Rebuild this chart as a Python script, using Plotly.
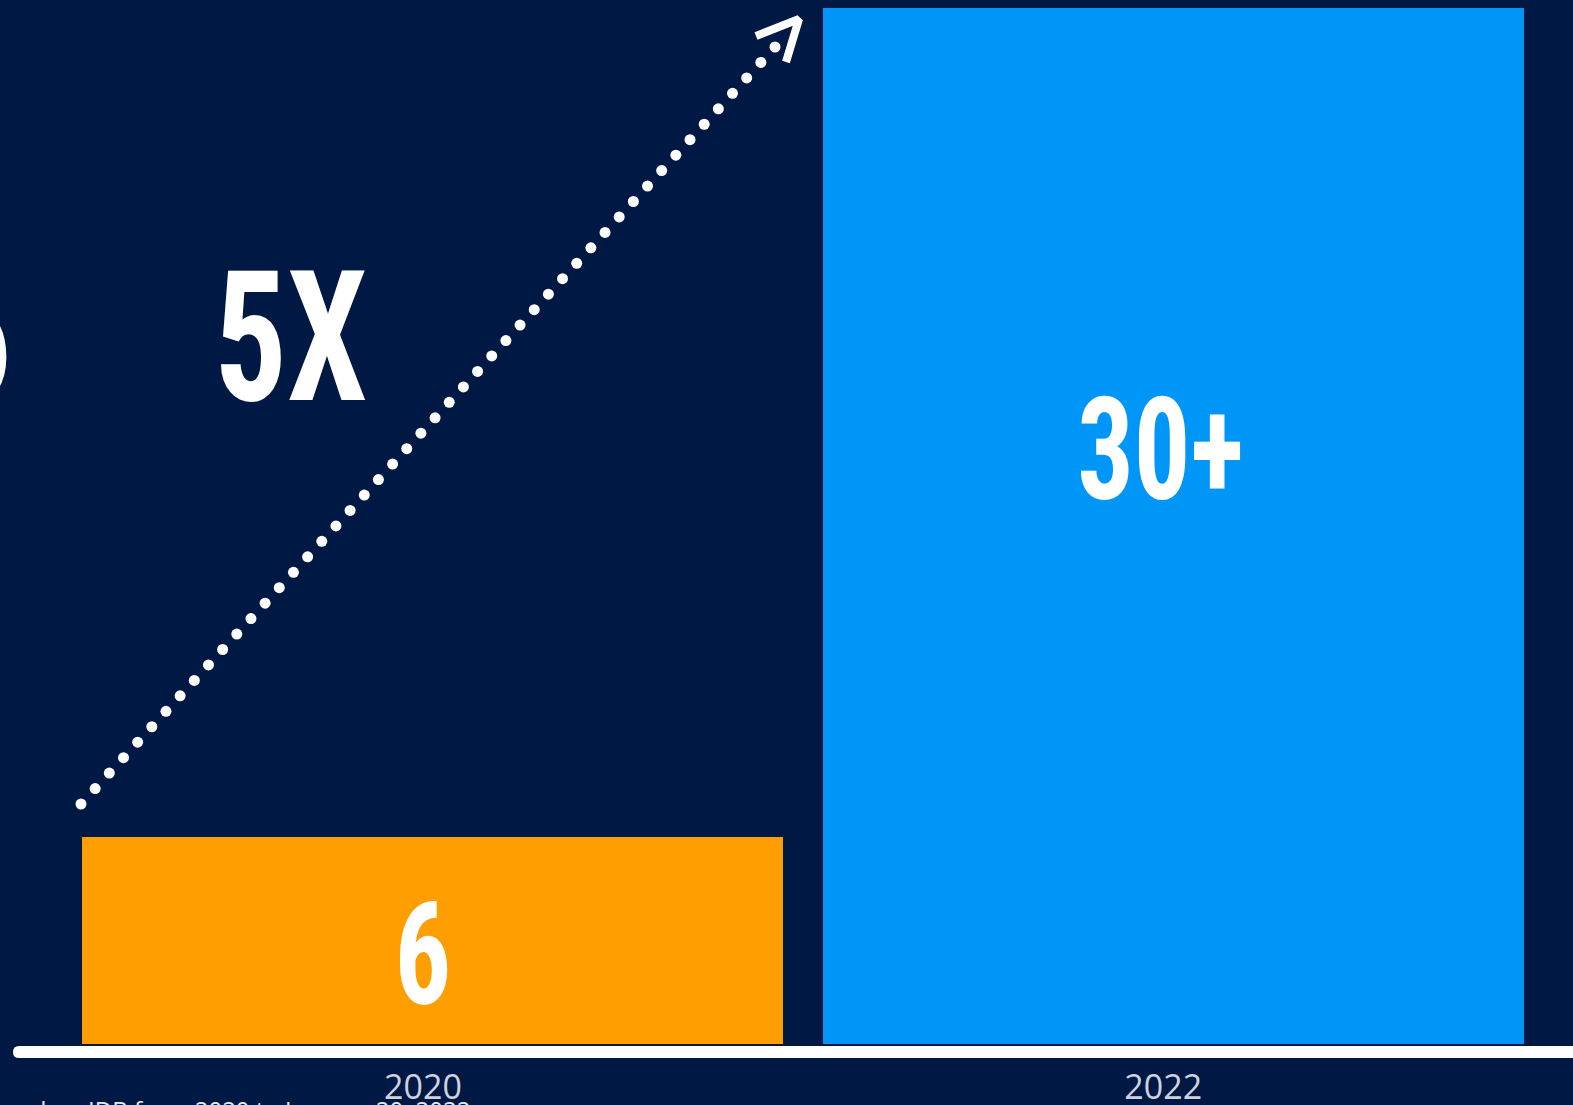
import numpy as np
import plotly.graph_objects as go

# --- data ---------------------------------------------------------------
years = ["2020", "2022"]
counts = [6, 30]
count_labels = ["6", "30+"]
bar_colors = ["#FF9E00", "#0096F8"]
growth_label = "5X"
source_note = "Based on IDB from 2020 to January 20, 2022"

# --- page geometry ------------------------------------------------------
W, H = 1573, 1105
BOTTOM = 61            # space under the plot area for the baseline + years
PLOT_H = H - BOTTOM
BG = "#001844"
CONDENSED = "Roboto Condensed, Liberation Sans Narrow, DejaVu Sans Condensed, Arial Narrow, sans-serif"
SQUEEZE = 0.79         # horizontal compression applied to the big display numerals

x_pos = np.arange(len(years))
y_top = max(counts) * PLOT_H / (PLOT_H - 8)
x_range = [-0.5848, 1.540]


def px_to_paper(px, py):
    """Pixel position on the page -> paper coordinates (no side margins)."""
    return px / W, (PLOT_H - py) / PLOT_H


def px_to_data(px, py):
    xd = x_range[0] + px / W * (x_range[1] - x_range[0])
    yd = (PLOT_H - py) / PLOT_H * y_top
    return xd, yd


fig = go.Figure()

fig.add_trace(go.Bar(
    x=x_pos, y=counts, width=0.947,
    marker=dict(color=bar_colors, line=dict(width=0)),
    hoverinfo="skip", showlegend=False,
))

# dotted growth arrow rising from the 2020 bar towards the 2022 bar
sx, sy = px_to_data(81, 804)
ex, ey = px_to_data(775, 47)
n_dots = 50
fig.add_trace(go.Scatter(
    x=np.linspace(sx, ex, n_dots), y=np.linspace(sy, ey, n_dots),
    mode="markers", marker=dict(size=11, color="white", line=dict(width=0)),
    hoverinfo="skip", showlegend=False, cliponaxis=False,
))
head = [px_to_data(*p) for p in [(756, 36), (799, 19), (786, 62)]]
fig.add_trace(go.Scatter(
    x=[p[0] for p in head], y=[p[1] for p in head],
    mode="lines", line=dict(width=8, color="white"),
    hoverinfo="skip", showlegend=False, cliponaxis=False,
))

# value labels inside the bars
label_pos = [(423, 955), (1160, 450)]
for txt, (px, py) in zip(count_labels, label_pos):
    ax, ay = px_to_data(px, py)
    fig.add_annotation(
        x=ax, y=ay, xref="x", yref="y", text=f"<b>{txt}</b>",
        showarrow=False, xanchor="center", yanchor="middle",
        font=dict(family=CONDENSED, size=142, color="white"),
    )

# growth multiplier
gx, gy = px_to_paper(291, 338)
fig.add_annotation(
    x=gx, y=gy, xref="paper", yref="paper", text=f"<b>{growth_label}</b>",
    showarrow=False, xanchor="center", yanchor="middle",
    font=dict(family=CONDENSED, size=182, color="white"),
)
# headline figure running off the left edge
lx, ly = px_to_paper(-25, 338)
fig.add_annotation(
    x=lx, y=ly, xref="paper", yref="paper", text="<b>6</b>",
    showarrow=False, xanchor="center", yanchor="middle",
    font=dict(family=CONDENSED, size=182, color="white"),
)

# source note, mostly below the visible page
nx, ny = px_to_paper(472, 1091)
fig.add_annotation(
    x=nx, y=ny, xref="paper", yref="paper", text=source_note,
    showarrow=False, xanchor="right", yanchor="top",
    font=dict(family="Open Sans, sans-serif", size=24, color="#E6E9EF"),
)

# white baseline with a rounded left end
x0, yc = 13, 1052
half = 6
p_a = px_to_paper(x0 + half, yc - half)
p_b = px_to_paper(W + 10, yc - half)
p_c = px_to_paper(W + 10, yc + half)
p_d = px_to_paper(x0 + half, yc + half)
p_l = px_to_paper(x0, yc)
path = (f"M{p_a[0]},{p_a[1]} L{p_b[0]},{p_b[1]} L{p_c[0]},{p_c[1]} L{p_d[0]},{p_d[1]} "
        f"Q{p_l[0]},{p_d[1]} {p_l[0]},{p_l[1]} Q{p_l[0]},{p_a[1]} {p_a[0]},{p_a[1]} Z")
fig.add_shape(type="path", path=path, xref="paper", yref="paper",
              fillcolor="white", line=dict(width=0), layer="above")

fig.update_layout(
    width=W, height=H,
    margin=dict(l=0, r=0, t=0, b=BOTTOM, pad=0, autoexpand=False),
    paper_bgcolor=BG, plot_bgcolor=BG,
    bargap=0,
    xaxis=dict(
        range=x_range, tickmode="array", tickvals=x_pos, ticktext=years,
        showgrid=False, zeroline=False, showline=False, ticks="",
        tickfont=dict(family="Open Sans, sans-serif", size=34, color="#CDD3DE"),
        ticklabelshift=-10, ticklabelstandoff=20, automargin=False,
        fixedrange=True,
    ),
    yaxis=dict(
        range=[0, y_top], visible=False, showgrid=False, zeroline=False,
        fixedrange=True, automargin=False,
    ),
)

# narrow the large display numerals around their own centres
squeeze_js = """
var gd = document.getElementById('{plot_id}');
function squeezeBig() {
  gd.querySelectorAll('text.annotation-text').forEach(function (t) {
    var fs = parseFloat(t.style.fontSize);
    if (fs >= 100) {
      t.removeAttribute('transform');
      var b = t.getBBox();
      var cx = b.x + b.width / 2;
      t.setAttribute('transform',
        'translate(' + cx + ',0) scale(%s,1) translate(' + (-cx) + ',0)');
    }
  });
}
squeezeBig();
gd.on('plotly_afterplot', squeezeBig);
""" % SQUEEZE

fig.write_html("out.html", post_script=squeeze_js)
